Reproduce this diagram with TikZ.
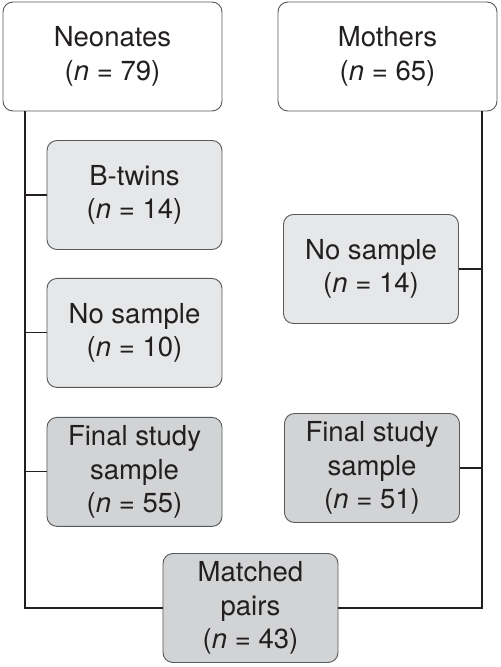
\documentclass[tikz,border=0pt]{standalone}
\usepackage{fontspec}
\setmainfont{TeX Gyre Heros}
\usetikzlibrary{positioning}
\definecolor{lightbox}{HTML}{E6E7E8}
\definecolor{darkbox}{HTML}{D1D3D4}
\definecolor{edgegray}{HTML}{58595B}
\definecolor{inkblack}{HTML}{231F20}

\begin{document}
\begin{tikzpicture}[
  x=0.03cm, y=-0.03cm,
  node distance=0.84cm,
  groupNode/.style={draw=edgegray, line width=0.8pt, fill=white, rounded corners=8.5pt, minimum width=6.57cm, minimum height=3.27cm, inner sep=2pt, align=center, font=\fontsize{23.5}{28.5}\selectfont, text=inkblack},
  exclNode/.style={groupNode, fill=lightbox, minimum width=5.25cm},
  finalNode/.style={exclNode, fill=darkbox},
  link/.style={draw=inkblack, line width=0.9pt}
]
\useasboundingbox (0,0) rectangle (500,667);

% Cohorts
\node[groupNode] (neonates) at (112.5,56.5) {Neonates\\(\textit{n} = 79)};
\node[groupNode] (mothers) at (387.5,56.5) {Mothers\\(\textit{n} = 65)};

% Neonates column
\node[exclNode] (btwins) at (134.5,195) {B-twins\\(\textit{n} = 14)};
\node[exclNode, below=of btwins] (nosampleN) {No sample\\(\textit{n} = 10)};
\node[finalNode, below=0.87cm of nosampleN] (finalN) {Final study\\sample\\(\textit{n} = 55)};

% Mothers column
\node[exclNode] (nosampleM) at (371,269) {No sample\\(\textit{n} = 14)};
\node[finalNode] (finalM) at (372,468) {Final study\\sample\\(\textit{n} = 51)};

% Matching
\node[finalNode] (matched) at (250.5,608) {Matched\\pairs\\(\textit{n} = 43)};

% Spines
\coordinate (leftBase) at (25,608);
\coordinate (rightBase) at (482,608);

\draw[link] (leftBase |- neonates.south) -- (leftBase) -- (matched.west);
\draw[link] (rightBase |- mothers.south) -- (rightBase) -- (matched.east);

\draw[link] (btwins.west) -- (btwins.west -| leftBase);
\draw[link] (nosampleN.west) -- (nosampleN.west -| leftBase);
\draw[link] (finalN.west) -- (finalN.west -| leftBase);
\draw[link] (nosampleM.east) -- (nosampleM.east -| rightBase);
\draw[link] (finalM.east) -- (finalM.east -| rightBase);

\end{tikzpicture}
\end{document}
